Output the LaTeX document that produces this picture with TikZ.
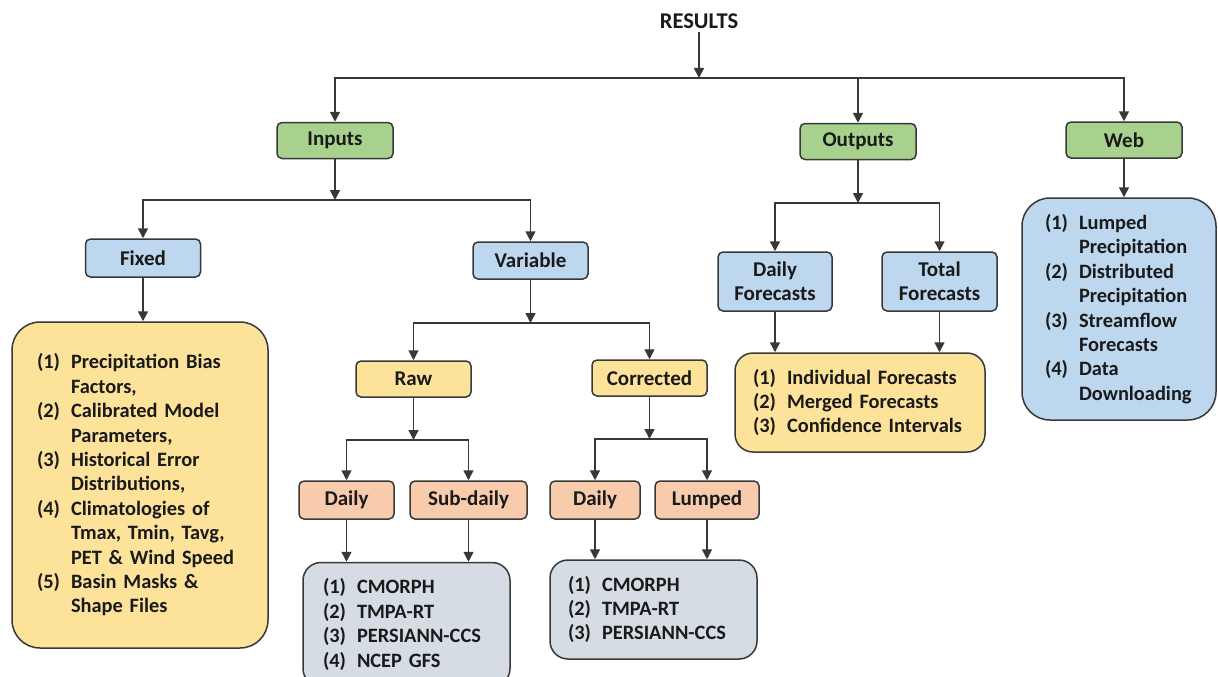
\documentclass[tikz,border=0pt]{standalone}
\usepackage{fontspec}
\setmainfont{Carlito}
\usetikzlibrary{arrows.meta}
\definecolor{gfill}{HTML}{A9D18E}
\definecolor{bfill}{HTML}{BDD7EE}
\definecolor{yfill}{HTML}{FDE29A}
\definecolor{sfill}{HTML}{F8CBAD}
\definecolor{qfill}{HTML}{D6DCE4}
\definecolor{edge}{HTML}{383838}
\definecolor{ink}{HTML}{1A1A1A}
\newcommand\Lnum[1]{\makebox[34pt][l]{#1}}
\tikzset{
  lbl/.style={font=\bfseries\fontsize{21}{24}\selectfont, text=ink},
  box/.style={lbl, draw=edge, line width=1.5pt, rounded corners=5pt, inner sep=0pt, align=center},
  gbox/.style={box, fill=gfill},
  bbox/.style={box, fill=bfill},
  ybox/.style={box, fill=yfill},
  sbox/.style={box, fill=sfill},
  listbox/.style={draw=edge, line width=1.5pt, text=ink, align=left, inner ysep=0pt,
     font=\bfseries\fontsize{20.4}{24.4}\selectfont},
  arr/.style={draw=edge, line width=1.6pt, -{Triangle[length=10pt,width=10pt]}},
}
\begin{document}
\begin{tikzpicture}[x=1pt,y=-1pt]
\useasboundingbox (0,0) rectangle (1218,677);
% title
\node[lbl, font=\bfseries\fontsize{22.5}{24}\selectfont] (results) at (699,21) {RESULTS};
\coordinate (j0) at (699,78);
% level 1
\node[gbox, minimum width=116pt, minimum height=36pt] (inputs) at (335,140.5) {Inputs};
\node[gbox, minimum width=116pt, minimum height=36pt] (outputs) at (858,141.5) {Outputs};
\node[gbox, minimum width=116pt, minimum height=36pt] (web) at (1124,140) {Web};
% inputs branch
\coordinate (j1) at (335,200);
\node[bbox, minimum width=115pt, minimum height=38pt] (fixed) at (143,258) {Fixed};
\node[bbox, minimum width=115pt, minimum height=37pt] (variable) at (530.5,260.5) {Variable};
\node[listbox, fill=yfill, rounded corners=28pt, minimum width=256pt, minimum height=326pt,
      text width=206pt, inner xsep=25pt] (fixedlist) at (140,485)
 {\Lnum{(1)}Precipitation Bias\\\Lnum{}Factors,\\\Lnum{(2)}Calibrated Model\\\Lnum{}Parameters,\\
  \Lnum{(3)}Historical Error\\\Lnum{}Distributions,\\\Lnum{(4)}Climatologies of\\\Lnum{}Tmax, Tmin, Tavg,\\
  \Lnum{}PET \& Wind Speed\\\Lnum{(5)}Basin Masks \&\\\Lnum{}Shape Files};
\coordinate (j2) at (530.5,323);
\node[ybox, minimum width=115pt, minimum height=36pt] (raw) at (413.5,379) {Raw};
\node[ybox, minimum width=115pt, minimum height=36pt] (corrected) at (649.5,378) {Corrected};
\coordinate (j3) at (413.5,440);
\coordinate (j4) at (649.5,439);
\node[sbox, minimum width=95pt, minimum height=38pt] (daily1) at (346.5,500) {Daily};
\node[sbox, minimum width=117pt, minimum height=38pt] (subdaily) at (468.5,500) {Sub-daily};
\node[sbox, minimum width=90pt, minimum height=38pt] (daily2) at (595,500) {Daily};
\node[sbox, minimum width=104pt, minimum height=38pt] (lumped) at (707,500) {Lumped};
\node[listbox, fill=qfill, rounded corners=18pt, minimum width=207pt, minimum height=124pt,
      text width=167pt, inner xsep=20pt] (rawlist) at (406.5,624.5)
 {\Lnum{(1)}CMORPH\\\Lnum{(2)}TMPA-RT\\\Lnum{(3)}PERSIANN-CCS\\\Lnum{(4)}NCEP GFS};
\node[listbox, fill=qfill, rounded corners=18pt, minimum width=207pt, minimum height=99pt,
      text width=171pt, inner xsep=18pt] (corrlist) at (653.5,609.5)
 {\Lnum{(1)}CMORPH\\\Lnum{(2)}TMPA-RT\\\Lnum{(3)}PERSIANN-CCS};
% outputs branch
\coordinate (j5) at (858,203);
\node[bbox, minimum width=114pt, minimum height=59pt] (dfore) at (775,281.5) {Daily\\Forecasts};
\node[bbox, minimum width=115pt, minimum height=59pt] (tfore) at (939.5,281.5) {Total\\Forecasts};
\node[listbox, fill=yfill, rounded corners=18pt, minimum width=250pt, minimum height=99pt,
      text width=214pt, inner xsep=18pt] (outlist) at (860,402.5)
 {\Lnum{(1)}Individual Forecasts\\\Lnum{(2)}Merged Forecasts\\\Lnum{(3)}Confidence Intervals};
% web branch
\node[listbox, fill=bfill, rounded corners=28pt, minimum width=194pt, minimum height=222pt,
      text width=148pt, inner xsep=23pt] (weblist) at (1119,309)
 {\Lnum{(1)}Lumped\\\Lnum{}Precipitation\\\Lnum{(2)}Distributed\\\Lnum{}Precipitation\\
  \Lnum{(3)}Streamflow\\\Lnum{}Forecasts\\\Lnum{(4)}Data\\\Lnum{}Downloading};
% connectors
\draw[arr] (results) -- (j0);
\draw[arr] (j0) -| (inputs);
\draw[arr] (j0) -| (outputs);
\draw[arr] (j0) -| (web);
\draw[arr] (inputs) -- (j1);
\draw[arr] (j1) -| (fixed);
\draw[arr] (j1) -| (variable);
\draw[arr] (fixed.south) -- (fixed.south |- fixedlist.north);
\draw[arr] (variable) -- (j2);
\draw[arr] (j2) -| (raw);
\draw[arr] (j2) -| (corrected);
\draw[arr] (raw) -- (j3);
\draw[arr] (j3) -| (daily1);
\draw[arr] (j3) -| (subdaily);
\draw[arr] (corrected) -- (j4);
\draw[arr] (j4) -| (daily2);
\draw[arr] (j4) -| (lumped);
\draw[arr] (daily1.south) -- (daily1.south |- rawlist.north);
\draw[arr] (subdaily.south) -- (subdaily.south |- rawlist.north);
\draw[arr] (daily2.south) -- (daily2.south |- corrlist.north);
\draw[arr] (lumped.south) -- (lumped.south |- corrlist.north);
\draw[arr] (outputs) -- (j5);
\draw[arr] (j5) -| (dfore);
\draw[arr] (j5) -| (tfore);
\draw[arr] (dfore.south) -- (dfore.south |- outlist.north);
\draw[arr] (tfore.south) -- (tfore.south |- outlist.north);
\draw[arr] (web.south) -- (web.south |- weblist.north);
\end{tikzpicture}
\end{document}
